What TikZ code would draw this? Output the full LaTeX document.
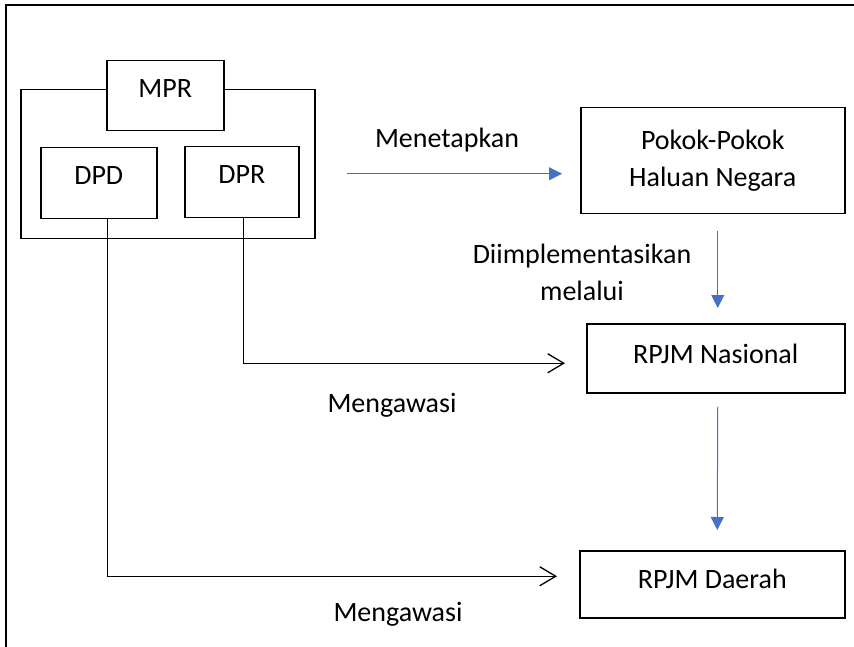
\documentclass[tikz,border=0pt]{standalone}
\usepackage{fontspec}
\setmainfont{Carlito}
\usepackage{tikz}
\usetikzlibrary{positioning}
\usetikzlibrary{calc}
\usetikzlibrary{arrows.meta}
\definecolor{birukantor}{HTML}{4472C4}
\tikzset{kotak/.style={draw, line width=1.5pt, fill=white, inner sep=0pt, anchor=north west},
keterangan/.style={anchor=base, inner sep=0pt},
panah biru/.style={draw=birukantor, line width=1pt, -{Triangle[length=13pt,width=13pt]}},
panah hitam/.style={line width=1.3pt, -{Straight Barb[length=16pt,width=19pt]}}}

\begin{document}
\begin{tikzpicture}[x=1pt, y=-1pt, font=\fontsize{28}{37}\selectfont]
\useasboundingbox (0,0) rectangle (854,647);
\draw[line width=2pt] (6,647) -- (6,5) -- (854,5);
\node (lembaga) at (20,89) [kotak, minimum width=294pt, minimum height=149pt] {};
\node (mpr) at (106,60) [kotak, minimum width=117pt, text height=37pt, text depth=33pt] {MPR};
\node (dpd) at (40,147) [kotak, minimum width=116pt, text height=37pt, text depth=34pt] {DPD};
\node (dpr) at (184,146) [kotak, minimum width=114pt, text height=37pt, text depth=34pt] {DPR};
\node (pokok) at (580,107) [kotak, minimum width=264pt, minimum height=106pt, align=center] {Pokok-Pokok\\Haluan Negara};
\node (nasional) at (586,323) [kotak, minimum width=258pt, text height=40pt, text depth=29pt] {RPJM Nasional};
\node (daerah) at (579,550) [kotak, minimum width=265pt, text height=38pt, text depth=29pt] {RPJM Daerah};
\node (menetapkan) at (447,148) [keterangan] {Menetapkan};
\node (diimpl) at (582,272) [align=center, inner sep=0pt] {Diimplementasikan\\melalui};
\node (awas1) at (392,412) [keterangan] {Mengawasi};
\node (awas2) at (398,621) [keterangan] {Mengawasi};
\draw[panah biru] ([xshift=31pt,yshift=-9.5pt]lembaga.east) -- ([xshift=-18pt,yshift=-13pt]pokok.west);
\draw[panah biru] ([xshift=5pt,yshift=-17pt]pokok.south) -- ([xshift=2pt,yshift=15pt]nasional.north);
\draw[panah biru] ([xshift=2pt,yshift=-13pt]nasional.south) -- ([xshift=5pt,yshift=20pt]daerah.north);
\draw[panah hitam] ([xshift=2pt]dpr.south) |- ([xshift=-21pt,yshift=-5pt]nasional.west);
\draw[panah hitam] ([xshift=9pt]dpd.south) |- ([xshift=-22pt,yshift=8pt]daerah.west);
\end{tikzpicture}
\end{document}
